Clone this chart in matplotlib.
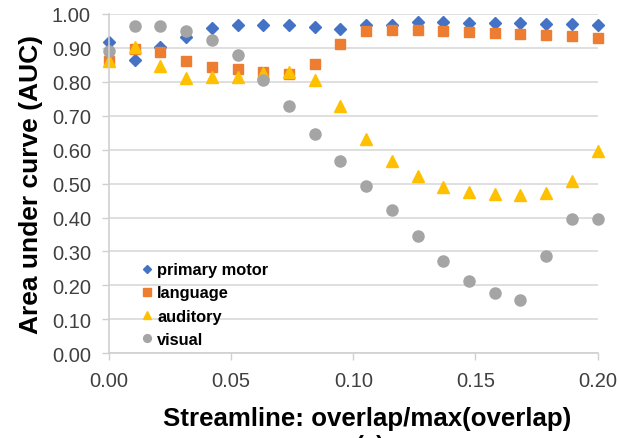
import numpy as np
import matplotlib.pyplot as plt

plt.rcParams['font.family'] = ['Liberation Sans', 'DejaVu Sans']

# overlap threshold (20 steps from 0 to 0.2)
x = np.linspace(0, 0.2, 20)

primary_motor = [0.917, 0.865, 0.902, 0.931, 0.958, 0.968, 0.968, 0.966, 0.961, 0.957,
                 0.966, 0.968, 0.976, 0.976, 0.973, 0.973, 0.973, 0.971, 0.970, 0.968]
language = [0.862, 0.897, 0.889, 0.862, 0.843, 0.838, 0.830, 0.823, 0.853, 0.912,
            0.951, 0.953, 0.953, 0.951, 0.946, 0.944, 0.941, 0.938, 0.934, 0.929]
auditory = [0.862, 0.902, 0.846, 0.810, 0.813, 0.813, 0.826, 0.830, 0.806, 0.730,
            0.632, 0.568, 0.522, 0.489, 0.476, 0.469, 0.467, 0.472, 0.507, 0.597]
visual = [0.892, 0.963, 0.963, 0.949, 0.923, 0.879, 0.806, 0.728, 0.646, 0.568,
          0.494, 0.423, 0.347, 0.271, 0.214, 0.177, 0.158, 0.286, 0.396, 0.396]

fig = plt.figure(figsize=(6.2, 4.39), dpi=100)
ax = fig.add_axes([0.1758, 0.193, 0.788, 0.773])

ax.plot(x, primary_motor, 'D', color='#4472C4', ms=6.5, label='primary motor', clip_on=False)
ax.plot(x, language, 's', color='#ED7D31', ms=7.5, label='language', clip_on=False)
ax.plot(x, auditory, '^', color='#FFC000', ms=8.5, label='auditory', clip_on=False)
ax.plot(x, visual, 'o', color='#A5A5A5', ms=8, label='visual', clip_on=False)

ax.set_xlim(0, 0.2)
ax.set_ylim(0, 1.0)
ax.set_xticks(np.arange(0, 0.201, 0.05))
ax.set_yticks(np.arange(0, 1.001, 0.1))
ax.xaxis.set_major_formatter(plt.FormatStrFormatter('%.2f'))
ax.yaxis.set_major_formatter(plt.FormatStrFormatter('%.2f'))
ax.tick_params(labelsize=14.5, colors='#d0d0d0', labelcolor='#404040', length=5, width=1)
ax.tick_params(axis='x', pad=8)
ax.tick_params(axis='y', pad=8)

ax.grid(axis='y', color='#d9d9d9', lw=1.2)
ax.set_axisbelow(True)
for s in ['top', 'right']:
    ax.spines[s].set_visible(False)
for s in ['left', 'bottom']:
    ax.spines[s].set_color('#d0d0d0')
    ax.spines[s].set_linewidth(1.2)

ax.set_ylabel('Area under curve (AUC)', fontsize=19, fontweight='bold', labelpad=6)
ax.set_xlabel('Streamline: overlap/max(overlap)', fontsize=18.6, fontweight='bold')
ax.xaxis.set_label_coords(0.528, -0.154)

ax.legend(loc='lower left', bbox_to_anchor=(0.055, 0.0), frameon=False, markerscale=0.7,
          handlelength=0.6, handletextpad=0.3, labelspacing=0.5, borderaxespad=0,
          prop={'size': 11.75, 'weight': 'bold'})

# panel label, cut off at the bottom edge as in the source figure
fig.text(0.597, 0.009, '(a)', fontsize=17, fontweight='bold', ha='center', va='top')

fig.savefig('out.png', dpi=100)
